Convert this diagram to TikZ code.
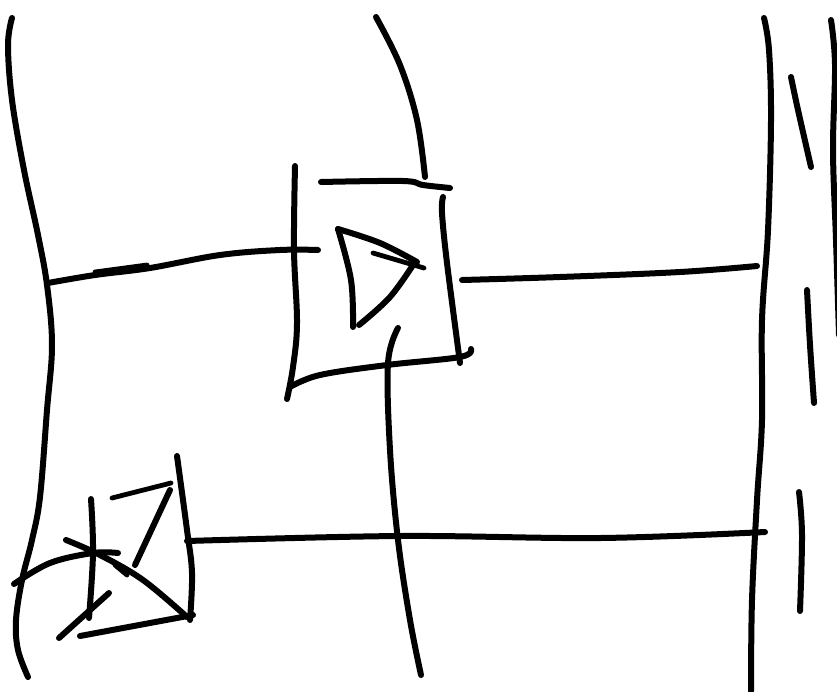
\documentclass[tikz,border=0pt]{standalone}
\begin{document}
\begin{tikzpicture}[
		x=1pt, y=-1pt,
		pen/.style={draw=black, line width=6pt, line cap=round, line join=round},
		thinpen/.style={pen, line width=4.8pt},
		curve/.style={smooth, tension=0.6}
	]
		\useasboundingbox (0,0) rectangle (837,691);
		\clip (0,0) rectangle (837,691);
		% bus lines
		\draw[pen] plot[curve] coordinates {(12,18) (8,45) (12,100) (24,170) (38,235) (47,285) (52,345) (47,410) (40,497) (32,540) (22,580) (16,620) (18,650) (28,677)};
		\draw[pen] plot[curve] coordinates {(764,18) (769,50) (771,120) (768,230) (762,320) (762,420) (757,500) (752,600) (751,691)};
		\draw[pen] plot[curve] coordinates {(831,20) (835,65) (833,150) (836,240) (839,335)};
		\draw[pen] plot[curve] coordinates {(791,77) (798,110) (811,167)};
		\draw[pen] plot[curve] coordinates {(807,290) (810,345) (814,403)};
		\draw[pen] plot[curve] coordinates {(799,492) (802,535) (800,611)};
		% upper box
		\draw[pen] plot[curve] coordinates {(295,166) (294,250) (297,323) (293,367) (287,399)};
		\draw[pen] plot[curve] coordinates {(290,387) (320,375) (387,365) (460,357) (471,349)};
		\draw[pen] plot[curve] coordinates {(321,182) (403,181) (423,185) (450,188)};
		\draw[pen] plot[curve] coordinates {(443,197) (442,213) (447,263) (460,363)};
		\draw[pen] plot[curve] coordinates {(338,229) (380,243) (417,262)};
		\draw[pen] plot[curve] coordinates {(415,262) (390,297) (359,325)};
		\draw[pen] plot[curve] coordinates {(338,229) (351,280) (353,327)};
		\draw[thinpen] (373,253) -- (424,268);
		% wires of upper box
		\draw[pen] plot[curve] coordinates {(48,283) (95,275) (150,268) (220,255) (280,250) (318,250)};
		\draw[thinpen] (95,272) -- (147,265);
		\draw[pen] plot[curve] coordinates {(376,17) (400,65) (417,120) (425,177)};
		\draw[pen] plot[curve] coordinates {(398,328) (388,363) (390,450) (398,540) (410,620) (421,675)};
		\draw[pen] plot[curve] coordinates {(462,280) (560,277) (680,272) (757,266)};
		% lower box
		\draw[pen] plot[curve] coordinates {(177,456) (187,530) (192,573) (190,620)};
		\draw[pen] (80,636) -- (193,615);
		\draw[thinpen] (112,498) -- (171,483);
		\draw[pen] (170,490) -- (135,565);
		\draw[pen] plot[curve] coordinates {(91,499) (93,553) (89,618)};
		\draw[pen] (59,638) -- (109,593);
		\draw[pen] plot[curve] coordinates {(14,584) (50,563) (93,553) (118,553)};
		\draw[pen] plot[curve] coordinates {(66,540) (100,555) (143,580) (187,617)};
		\draw[thinpen] (115,565) -- (127,575);
		\draw[pen] plot[curve] coordinates {(187,541) (400,536) (600,538) (765,532)};
	\end{tikzpicture}
\end{document}
